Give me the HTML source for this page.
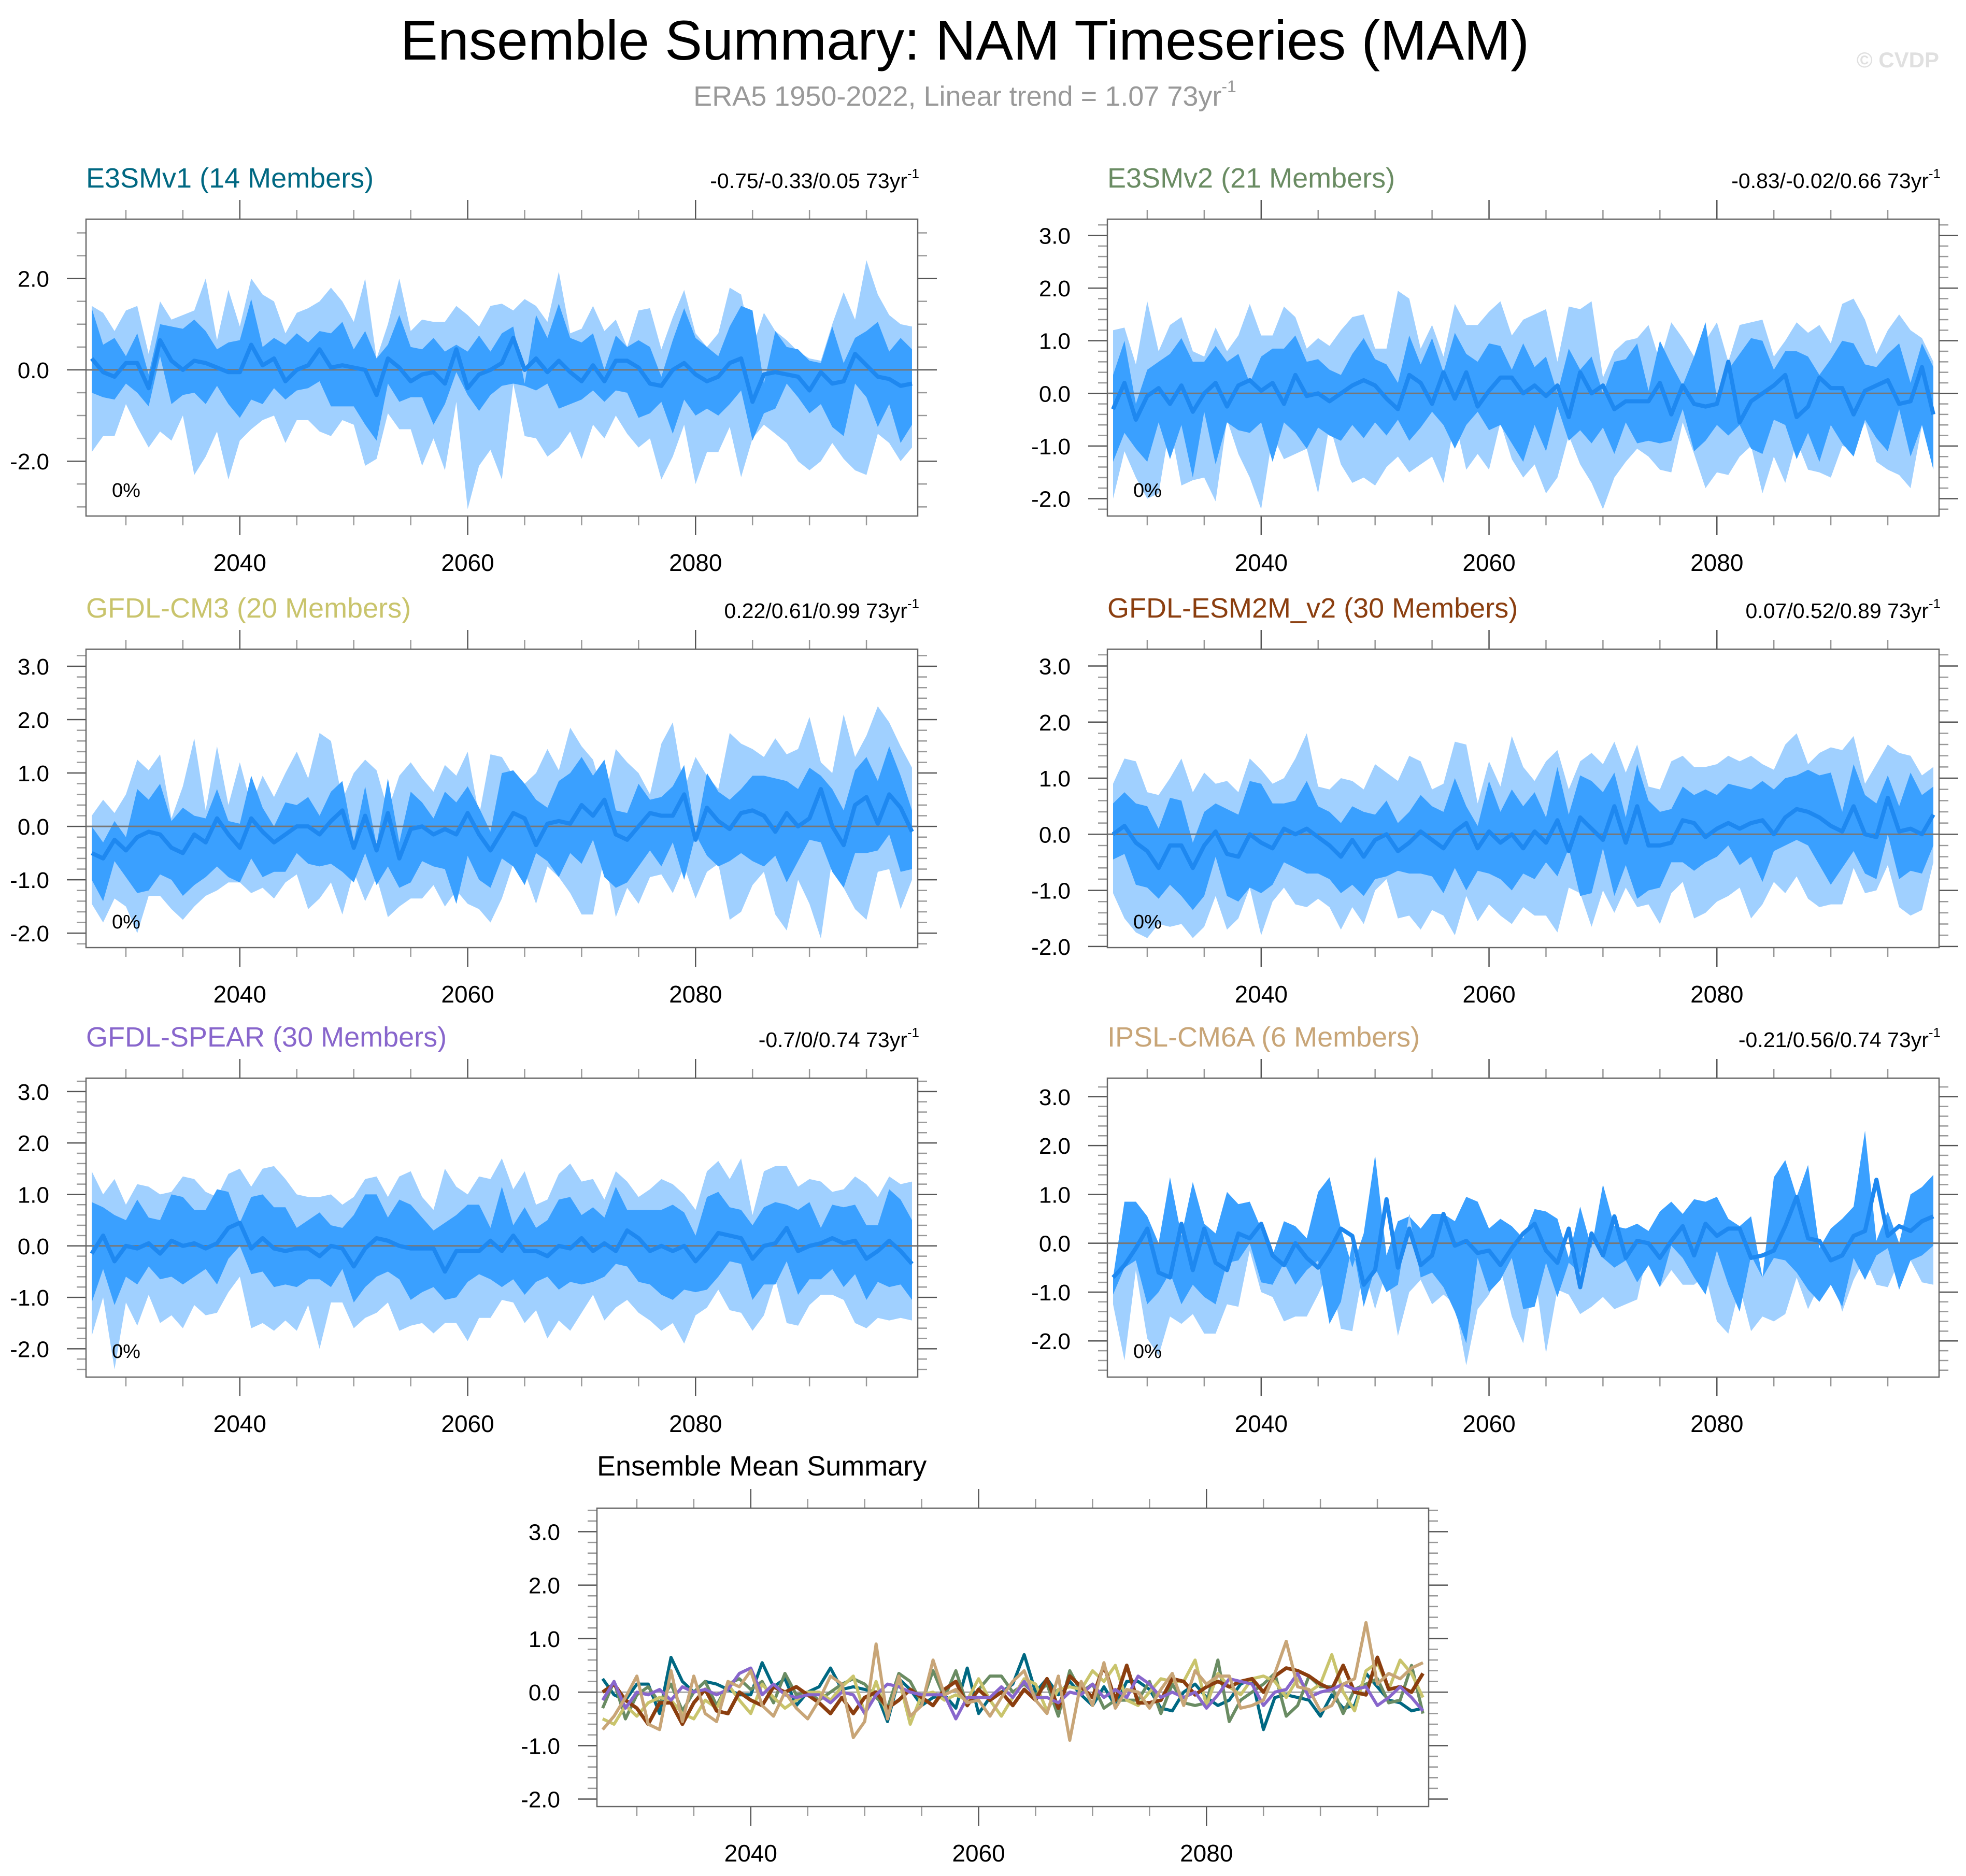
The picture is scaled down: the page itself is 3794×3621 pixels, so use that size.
<!DOCTYPE html>
<html><head><meta charset="utf-8">
<style>
html,body{margin:0;padding:0;background:#fff;}
svg{display:block;font-family:"Liberation Sans",Arial,sans-serif;}
</style></head>
<body>
<svg id="fig" xmlns="http://www.w3.org/2000/svg" width="3794" height="3621" viewBox="0 0 3794 3621">
<rect x="0" y="0" width="3794" height="3621" fill="#fff"/>
<text x="1862" y="115" font-size="108" text-anchor="middle" fill="#000">Ensemble Summary: NAM Timeseries (MAM)</text>
<text x="1862" y="204" font-size="54" text-anchor="middle" fill="#999">ERA5 1950-2022, Linear trend = 1.07 73yr<tspan font-size="32" dy="-26">-1</tspan></text>
<text x="3742" y="130" font-size="42" font-weight="bold" text-anchor="end" fill="#e0e0e0">© CVDP</text>
<g id="panels"></g>
</svg>
<script>
// ---------- DATA ----------
const years = [];
for (let y = 2027; y <= 2099; y++) years.push(y);
const xTicks = [2040, 2060, 2080];

const e3v1Mean = [.25,-.05,-.15,.15,.15,-.4,.65,.2,0,.2, .15,.05,-.05,-.05,.55,.1,.25,-.25,0,.1, .45,.05,.1,.05,0,-.55,.25,.05,-.25,-.1, -.05,-.3,.45,-.4,-.1,0,.15,.7,0,.25, -.05,.2,-.05,-.25,.1,-.25,.2,.2,.05,-.3, -.35,0,.15,-.1,-.25,-.15,.15,.25,-.7,-.1, -.05,-.1,-.15,-.45,-.05,-.3,-.25,.35,.1,-.15, -.2,-.35,-.3];
const e3v1DkHi = [1.35,.55,.7,.3,.8,-.1,1.0,.95,.9,1.1, .85,.45,.6,.65,1.55,.5,.7,.55,.8,.6, .85,.8,1.05,.45,.85,.25,.55,1.2,.5,.45, .7,.4,.55,.4,.75,.4,.8,.95,-.3,1.2, .7,1.45,.7,.6,.8,0,.75,.5,.65,.5, -.15,.65,1.35,.7,.5,.3,.95,1.4,1.3,-.3, .85,.5,.45,.2,.15,.95,.15,.7,.85,1.05, .4,.7,.45];
const e3v1DkLo = [-.5,-.6,-.65,-.3,-.5,-.8,.3,-.75,-.55,-.5, -.75,-.35,-.75,-1.05,-.65,-.75,-.4,-.65,-.45,-.4, -.25,-.8,-.8,-.8,-1.2,-1.55,-.3,-.7,-.6,-.6, -1.2,-.75,-.05,-.55,-.9,-.55,-.35,-.3,-.35,-.45, -.3,-.85,-.75,-.65,-.45,-.7,-.45,-.5,-1.05,-.95, -.7,-1.4,-.65,-1.0,-.85,-1.0,-.75,-.45,-1.55,-.95, -.85,-.3,-.6,-.95,-.75,-1.25,-1.45,-.3,-.6,-1.25, -.75,-1.6,-1.2];
const e3v1LtHi = [1.4,1.25,.85,1.3,1.4,.35,1.5,1.1,1.2,1.3, 2.0,.65,1.75,.95,2.0,1.65,1.5,.8,1.25,1.35, 1.5,1.8,1.5,1.05,2.0,.25,1.0,2.0,.85,1.1, 1.05,1.05,1.4,1.2,.95,1.4,1.45,1.3,1.55,1.4, 1.05,2.15,.8,.9,1.4,.85,1.1,.5,1.3,1.35, .45,1.15,1.75,.8,.5,.8,1.8,1.65,.5,1.25, .85,.65,.4,.25,.2,1.0,1.7,1.1,2.4,1.65, 1.2,1.0,.95];
const e3v1LtLo = [-1.8,-1.45,-1.45,-.75,-1.25,-1.7,-1.35,-1.55,-1.0,-2.3, -1.9,-1.35,-2.4,-1.55,-1.3,-1.1,-1.0,-1.6,-1.1,-1.1, -1.35,-1.45,-1.1,-1.2,-2.1,-1.95,-.95,-1.3,-1.3,-2.1, -1.5,-2.2,-.7,-3.05,-2.1,-1.75,-2.4,-.3,-1.45,-1.5, -1.9,-1.7,-1.35,-1.95,-1.2,-1.5,-1.0,-1.4,-1.7,-1.5, -2.4,-1.9,-1.2,-2.5,-1.8,-1.8,-1.25,-2.35,-1.5,-1.2, -1.4,-1.6,-2.0,-2.2,-2.0,-1.6,-1.95,-2.2,-2.3,-1.4, -1.6,-2.0,-1.7];

const e3v2Mean = [-.3,.2,-.5,-.05,.1,-.2,.15,-.35,0,.2, -.25,.15,.25,.05,.2,-.2,.35,-.05,0,-.15, 0,.15,.25,.15,-.1,-.3,.35,.2,-.2,.4, -.1,.4,-.25,.05,.3,.3,0,.15,-.05,.15, -.45,.4,0,.15,-.3,-.15,-.15,-.15,.2,-.4, .15,-.2,-.25,-.2,.6,-.55,-.15,0,.15,.35, -.45,-.25,.3,.1,.1,-.4,.05,.15,.25,-.2, -.15,.5,-.4];
const e3v2DkHi = [.35,1.0,-.2,.45,.6,.75,1.05,.6,.6,.9, .6,.75,.2,.7,.85,.85,1.1,.6,.65,.45, .35,.75,1.05,.65,.55,.2,1.1,.55,1.05,.4, 1.15,.75,.6,.95,.9,.45,.95,.5,.7,0, .85,.45,.7,0,.6,.65,.95,.05,1.0,.55, .15,.7,1.35,-.1,.45,.75,1.05,1.0,.45,.8, .8,.7,.35,.65,1.0,.95,.55,.5,.75,.95, .2,.95,.5];
const e3v2DkLo = [-1.3,-.75,-1.05,-1.3,-.55,-1.25,-.6,-1.6,-.35,-1.35, -.55,-.7,-.75,-.55,-1.3,-.55,-.75,-1.05,-.65,-.8, -.9,-.6,-.85,-.55,-.8,-.5,-.9,-.65,-.35,-.6, -1.05,-.6,-.35,-.7,-.6,-.95,-1.3,-.6,-1.1,-.25, -.9,-.7,-.95,-.65,-1.15,-.55,-.95,-.9,-.95,-.9, -.3,-1.1,-.9,-.6,-.8,-.6,-1.05,-1.15,-.5,-.6, -1.25,-.75,-1.3,-.6,-.95,-1.2,-.5,-.85,-1.1,-.3, -1.2,-.6,-1.45];
const e3v2LtHi = [1.2,1.25,.55,1.75,.8,1.3,1.45,.8,.7,1.25, .8,1.1,1.7,1.1,1.1,1.65,1.45,.85,1.05,.9, 1.2,1.45,1.5,.85,.85,1.95,1.8,.85,1.3,.7, 1.7,1.3,1.3,1.55,1.75,1.1,1.4,1.5,1.6,.6, 1.65,1.6,1.75,.3,.8,1.0,1.05,1.3,.6,1.35, 1.05,.7,1.0,1.35,.6,1.3,1.35,1.4,.7,1.0, 1.35,1.15,1.3,.95,1.7,1.8,1.4,.75,1.2,1.5, 1.2,1.05,.6];
const e3v2LtLo = [-2.0,-1.1,-1.6,-2.0,-1.9,-.6,-1.75,-1.65,-1.6,-2.05, -.5,-1.15,-1.6,-2.2,-.8,-1.25,-1.15,-1.05,-1.9,-.6, -1.35,-1.7,-1.6,-1.75,-1.4,-1.2,-1.5,-1.35,-1.2,-1.7, -.5,-1.45,-1.15,-1.45,-.55,-1.25,-1.6,-1.35,-1.9,-1.6, -.8,-1.35,-1.7,-2.2,-1.6,-1.3,-1.05,-1.2,-1.45,-1.5, -.55,-1.15,-1.8,-1.5,-1.55,-1.2,-1.0,-1.9,-1.2,-1.7, -.9,-1.45,-1.5,-1.6,-1.0,-1.05,-.55,-1.3,-1.45,-1.55, -1.8,-.6,-1.45];

const cm3Mean = [-.5,-.6,-.25,-.45,-.2,-.1,-.15,-.4,-.5,-.15, -.3,.15,-.15,-.4,.15,-.1,-.3,-.15,0,0, -.15,.1,.3,-.4,.2,-.45,.25,-.6,-.05,0, -.15,-.05,-.15,.25,-.15,-.45,-.1,.25,.15,-.35, .05,.1,.05,.4,.2,.5,-.15,-.25,0,.25, .2,.2,.6,-.25,.35,.1,-.05,.25,.3,.2, -.1,.25,0,.15,.7,0,-.35,.4,.55,.05, .6,.35,-.1];
const cm3DkHi = [0,-.3,.1,-.2,.7,.5,.8,.1,.35,.2, .15,.7,.1,.05,.95,.35,0,.45,.4,.55, .2,.65,.85,-.3,.75,-.35,.9,-.3,.65,.45, .15,.65,.45,.75,.35,-.1,1.0,1.05,.8,.5, .35,.85,1.0,1.3,.95,1.25,.3,.25,.8,.5, .55,.75,1.15,-.15,1.0,.65,.5,.7,.95,.95, .9,.85,.7,1.1,.95,.7,.3,1.05,1.3,.85, 1.5,.95,.3];
const cm3DkLo = [-1.0,-1.4,-.65,-.95,-1.25,-1.2,-.9,-1.0,-1.3,-1.1, -.95,-.75,-.95,-1.05,-.6,-.95,-.85,-.85,-.5,-.7, -.75,-.7,-.85,-1.05,-.5,-1.1,-.75,-1.15,-1.05,-.65, -.75,-.8,-1.45,-.55,-1.0,-1.15,-.6,-.75,-1.1,-.5, -.65,-.95,-.5,-.7,-.25,-.95,-1.15,-1.05,-.75,-.45, -.75,-.3,-1.0,-.15,-.55,-.75,-.65,-.5,-.65,-.75, -.55,-1.05,-.65,-.25,-.3,-.85,-1.15,-.5,-.5,-.45, -.15,-.85,-.8];
const cm3LtHi = [.2,.5,.25,.6,1.25,1.05,1.35,.15,.75,1.65, .3,1.5,.4,1.2,.4,.95,.55,1.0,1.4,.9, 1.75,1.6,.5,1.0,1.25,1.05,.3,.95,1.2,.9, .65,1.15,.95,1.4,.2,1.35,1.3,.95,.8,1.0, 1.45,1.05,1.85,1.5,1.25,.5,1.45,1.2,1.0,.6, 1.55,1.95,.7,1.3,.95,.7,1.75,1.55,1.45,1.3, 1.65,1.35,1.45,2.05,1.2,1.0,2.1,1.3,1.7,2.25, 1.95,1.5,1.1];
const cm3LtLo = [-1.45,-1.8,-1.35,-1.5,-2.0,-1.3,-1.3,-1.55,-1.75,-1.5, -1.3,-1.2,-1.05,-1.05,-1.25,-1.15,-1.35,-1.05,-.9,-1.55, -1.35,-1.05,-1.65,-.85,-1.4,-.95,-1.7,-1.5,-1.35,-1.35, -1.1,-1.5,-1.2,-1.45,-1.55,-1.8,-1.35,-.7,-.85,-1.45, -.75,-.95,-1.25,-1.65,-1.65,-.55,-1.7,-1.15,-1.45,-.95, -.9,-1.25,-.75,-1.35,-.85,-.7,-1.75,-1.6,-1.1,-.85, -1.65,-1.95,-1.0,-1.45,-2.1,-.6,-1.15,-1.55,-1.75,-.85, -.8,-1.55,-1.0];

const esmMean = [0,.15,-.15,-.3,-.6,-.2,-.2,-.6,-.2,.05, -.35,-.4,0,-.15,-.25,.1,0,.1,-.05,-.2, -.4,-.1,-.4,-.1,0,-.3,-.15,.05,-.1,-.25, .05,.2,-.25,.05,-.15,0,-.25,.05,-.15,.25, -.3,.3,.1,-.1,.5,-.15,.5,-.2,-.2,-.15, .25,.2,-.05,.1,.2,.1,.2,.25,0,.3, .45,.4,.3,.15,.05,.5,0,-.05,.65,.05, .1,0,.35];
const esmDkHi = [.55,.75,.55,.5,.1,.65,.6,-.15,.4,.55, .45,.35,.95,.9,.55,.55,.6,.95,.5,.4, .2,.5,.4,.35,.6,.2,.4,.7,.5,.4, 1.0,.5,.15,.95,.4,.8,.5,.75,.3,1.2, .35,1.05,.95,.75,1.1,.3,1.25,.6,.4,.45, .85,.7,.8,.7,.9,.85,.8,.95,.8,1.0, 1.05,1.15,1.05,1.1,.4,1.25,.7,.55,1.05,.5, 1.1,.7,.85];
const esmDkLo = [-.45,-.35,-.9,-.95,-1.15,-.9,-1.1,-1.35,-1.1,-.4, -1.1,-1.2,-.95,-1.05,-.9,-.5,-.6,-.7,-.7,-.8, -1.05,-.9,-1.1,-.8,-.75,-.65,-.7,-.7,-.75,-1.05, -.6,-1.0,-.65,-.7,-.8,-1.0,-.7,-.8,-.5,-.75, -.25,-1.1,-1.05,-.25,-1.1,-.55,-1.15,-1.0,-.95,-.5, -.5,-.65,-.5,-.4,-.2,-.55,-.4,-.85,-.3,-.2, -.1,-.2,-.55,-.9,-.6,-.3,-.7,-.8,0,-.8, -.65,-.7,-.2];
const esmLtHi = [.9,1.35,1.3,.75,.7,1.0,1.35,.75,1.1,.9, .95,.75,1.35,1.15,.9,1.0,1.35,1.8,.85,.8, 1.0,.95,.8,1.25,1.1,.95,1.4,1.3,.8,.9, 1.65,1.6,.55,1.3,.85,1.75,1.2,.95,1.3,1.5, .8,1.3,1.45,1.25,1.65,1.1,1.6,.85,.8,1.3, 1.4,1.2,1.2,1.25,1.4,1.3,1.4,1.25,1.15,1.6, 1.8,1.25,1.45,1.55,1.5,1.75,.9,1.25,1.6,1.45, 1.4,1.05,1.2];
const esmLtLo = [-1.05,-1.5,-1.75,-1.85,-1.6,-1.65,-1.6,-1.85,-1.65,-1.1, -1.7,-1.5,-.95,-1.8,-1.2,-.95,-1.25,-1.3,-1.15,-1.3, -1.7,-1.3,-1.6,-1.0,-.8,-1.5,-1.45,-1.7,-1.35,-1.45, -1.8,-1.1,-1.55,-1.25,-1.45,-1.6,-1.3,-1.45,-1.45,-1.75, -.95,-1.05,-1.65,-1.0,-1.4,-.95,-1.3,-1.25,-1.6,-1.05, -.85,-1.5,-1.4,-1.2,-1.1,-.95,-1.5,-1.25,-.85,-1.05, -.75,-1.15,-1.3,-1.25,-1.25,-.6,-1.05,-1.0,-.55,-1.3, -1.45,-1.35,-.5];

const spearMean = [-.15,.2,-.3,0,-.05,.05,-.15,.1,0,.05, -.05,.05,.35,.45,-.05,.15,-.05,-.1,-.05,-.05, -.2,0,-.05,-.4,-.05,.15,.1,0,-.05,-.05, -.05,-.5,-.1,-.1,-.1,.1,-.1,.2,-.1,-.1, -.2,0,-.05,.15,-.1,.05,-.1,.3,.15,-.1, 0,-.1,0,-.3,-.05,.25,.2,.15,-.25,0, .05,.35,-.1,0,.05,.15,.05,.1,-.25,-.1, .1,-.1,-.35];
const spearDkHi = [.85,.75,.6,.5,.9,.55,.5,1.0,.95,.7, .7,1.1,1.05,.45,.95,1.0,.75,.75,.35,.5, .65,.4,.35,.6,1.0,1.0,.55,.9,.8,.55, .3,.45,.6,.8,.8,.35,1.15,.4,.75,.35, .5,.9,.95,.6,.75,.55,1.15,.7,.7,.7, .7,.8,.65,.2,.95,1.05,.75,.7,.4,.75, .85,.8,.7,.85,.35,.8,.75,.8,.4,.4, 1.1,.9,.5];
const spearDkLo = [-1.1,-.45,-1.15,-.6,-.75,-.4,-.65,-.6,-.75,-.6, -.45,-.75,-.25,0,-.55,-.5,-.8,-.75,-.8,-.65, -.65,-.8,-.45,-1.1,-.8,-.6,-.5,-.65,-1.05,-.9, -.8,-1.05,-1.0,-.7,-.55,-.65,-.8,-.65,-.95,-.7, -.6,-.85,-.7,-.75,-.7,-.6,-.35,-.4,-.7,-.75, -.95,-1.05,-.85,-.9,-.85,-.6,-.3,-.35,-1.05,-.75, -.75,-.3,-.95,-.65,-.65,-.45,-.8,-.55,-1.05,-.7, -.8,-.75,-1.05];
const spearLtHi = [1.45,1.0,1.3,.8,1.2,1.15,1.0,1.05,1.35,1.3, 1.05,.95,1.4,1.5,1.15,1.5,1.55,1.3,1.0,.95, .95,1.0,.8,.95,1.3,1.35,.95,1.35,1.45,.95, .7,1.5,1.15,1.0,1.35,1.3,1.7,1.1,1.45,.8, .9,1.4,1.6,1.25,1.3,.9,1.45,1.25,.95,1.1, 1.3,1.2,1.0,.7,1.45,1.65,1.3,1.7,.6,1.45, 1.55,1.55,1.15,1.3,1.25,1.05,1.1,1.35,1.2,.95, 1.35,1.2,1.25];
const spearLtLo = [-1.75,-1.0,-2.4,-1.1,-1.55,-.95,-1.5,-1.35,-1.6,-1.15, -1.35,-1.3,-.9,-.6,-1.6,-1.5,-1.65,-1.45,-1.65,-1.15, -2.0,-1.1,-1.1,-1.6,-1.4,-1.3,-1.1,-1.65,-1.55,-1.5, -1.7,-1.5,-1.5,-1.85,-1.4,-1.4,-1.05,-1.1,-1.5,-1.25, -1.8,-1.45,-1.65,-1.3,-.95,-1.45,-1.2,-1.05,-1.3,-1.45, -1.65,-1.5,-1.9,-1.35,-1.2,-.85,-1.25,-1.3,-1.65,-1.35, -.65,-1.5,-1.55,-1.15,-.95,-.95,-1.05,-1.5,-1.6,-1.4, -1.45,-1.4,-1.45];

const ipslMean = [-.7,-.45,-.1,.3,-.6,-.7,.4,-.55,.3,-.4, -.55,.2,.1,.4,-.25,-.45,0,-.3,-.5,-.15, .3,.15,-.85,-.55,.9,-.5,.3,-.45,-.25,.6, -.05,.05,-.2,-.15,-.45,-.1,.2,.4,-.15,-.4, .3,-.9,.2,-.25,.55,-.3,.05,0,-.3,.05, .35,-.25,.4,.15,.3,.3,-.3,-.25,-.15,.35, .95,.1,.05,-.35,-.25,.15,.25,1.3,.15,.35, .25,.45,.55];
const ipslDkHi = [-.7,.85,.85,.55,0,1.35,.15,1.25,.4,.2, 1.05,.8,.85,.3,-.25,.45,.35,.1,1.05,1.35, .3,-.5,.2,1.8,-.25,.45,.55,.3,.6,.6, .45,.95,.85,.3,.5,.35,.1,.7,.65,.5, -.3,.75,-.1,1.2,.35,.3,.4,.25,.65,.85, .6,.9,.85,.95,.5,.35,.55,-.7,1.35,1.7, .95,1.6,-.1,.3,.5,.75,2.3,.05,.65,0, 1.0,1.15,1.4];
const ipslDkLo = [-1.05,-.5,-.35,-1.25,-1.0,-.6,-1.25,-.85,-1.1,-1.25, -.4,-.35,0,-.8,-.85,-.4,-.85,-.55,-.35,-1.65, -1.2,0,-1.3,-.5,-1.0,-.85,.6,-.7,-.6,-.9, -1.4,-2.05,-.3,-1.0,-.75,-.3,-1.35,-1.3,-.4,-1.1, -.4,-.6,.1,-.3,-.5,-.35,-.8,-.45,-.9,-.05, -.3,-.7,-1.05,-.15,-.85,-1.4,-.25,-.7,-.3,-.35, -.6,-.95,-1.2,-.85,-1.3,-.3,-.75,-.25,-.1,-.95, -.35,-.25,-.05];
const ipslLtHi = ipslDkHi;
const ipslLtLo = [-1.25,-2.4,-.55,-1.95,-2.3,-1.5,-1.65,-1.45,-1.85,-1.85, -1.25,-1.3,-.15,-1.0,-1.1,-1.6,-1.5,-1.5,-1.05,-.55, -1.75,-1.8,-.5,-1.35,-.55,-1.9,-1.0,-.75,-1.25,-1.05, -1.25,-2.5,-1.35,-1.05,-.5,-1.5,-2.05,-.6,-2.25,-.95, -1.05,-1.45,-1.3,-1.1,-1.35,-1.25,-1.15,-.1,-.9,-.55, -.85,-.85,-.65,-1.6,-1.85,-.9,-1.8,-1.5,-1.6,-1.45, -.7,-1.35,-.85,-.55,-1.4,-.75,-.3,-.85,-.9,-.35, -.35,-.8,-.85];

const modelNames = ["E3SMv1 (14 Members)","E3SMv2 (21 Members)","GFDL-CM3 (20 Members)","GFDL-ESM2M_v2 (30 Members)","GFDL-SPEAR (30 Members)","IPSL-CM6A (6 Members)"];
const modelColors = ["#006882","#6a8c63","#c9c46c","#8b3e0f","#8866cc","#c8a577"];
const trendLabels = ["-0.75/-0.33/0.05","-0.83/-0.02/0.66","0.22/0.61/0.99","0.07/0.52/0.89","-0.7/0/0.74","-0.21/0.56/0.74"];
const ytickLabels1 = ["-2.0","0.0","2.0"];
const ytickLabels = ["-2.0","-1.0","0.0","1.0","2.0","3.0"];

// ---------- LAYOUT ----------
const NS = "http://www.w3.org/2000/svg";
const root = document.getElementById('panels');
function el(tag, attrs, parent) {
  const e = document.createElementNS(NS, tag);
  for (const k in attrs) e.setAttribute(k, attrs[k]);
  (parent || root).appendChild(e);
  return e;
}
const panels = [
  {x:166,y:423,w:1605,h:573,ymin:-3.2,ymax:3.3,maj:2,minr:0.5,labels:ytickLabels1,data:[e3v1Mean,e3v1DkHi,e3v1DkLo,e3v1LtHi,e3v1LtLo]},
  {x:2137,y:423,w:1605,h:573,ymin:-2.33,ymax:3.31,maj:1,minr:0.2,labels:ytickLabels,data:[e3v2Mean,e3v2DkHi,e3v2DkLo,e3v2LtHi,e3v2LtLo]},
  {x:166,y:1253,w:1605,h:576,ymin:-2.27,ymax:3.32,maj:1,minr:0.2,labels:ytickLabels,data:[cm3Mean,cm3DkHi,cm3DkLo,cm3LtHi,cm3LtLo]},
  {x:2137,y:1253,w:1605,h:576,ymin:-2.02,ymax:3.30,maj:1,minr:0.2,labels:ytickLabels,data:[esmMean,esmDkHi,esmDkLo,esmLtHi,esmLtLo]},
  {x:166,y:2081,w:1605,h:577,ymin:-2.55,ymax:3.26,maj:1,minr:0.2,labels:ytickLabels,data:[spearMean,spearDkHi,spearDkLo,spearLtHi,spearLtLo]},
  {x:2137,y:2081,w:1605,h:577,ymin:-2.74,ymax:3.38,maj:1,minr:0.2,labels:ytickLabels,data:[ipslMean,ipslDkHi,ipslDkLo,ipslLtHi,ipslLtLo]}
];
const X0 = 2026.5, X1 = 2099.5;

function axes(p, g) {
  const sx = v => p.x + (v - X0) / (X1 - X0) * p.w;
  const sy = v => p.y + (p.ymax - v) / (p.ymax - p.ymin) * p.h;
  return {sx, sy};
}

function drawFrame(p, g, ax) {
  for (let yr = 2030; yr <= 2095; yr += 5) {
    const X = ax.sx(yr);
    const major = yr % 20 === 0;
    const L = major ? 37 : 18;
    const c = major ? "#555" : "#999";
    el('line',{x1:X,y1:p.y,x2:X,y2:p.y-L,stroke:c,'stroke-width':2.5},g);
    el('line',{x1:X,y1:p.y+p.h,x2:X,y2:p.y+p.h+L,stroke:c,'stroke-width':2.5},g);
  }
  xTicks.forEach(yr => {
    const t = el('text',{x:ax.sx(yr),y:p.y+p.h+106,'font-size':46,'text-anchor':'middle',fill:'#000'},g);
    t.textContent = yr;
    
    
  });
  const start = Math.ceil(p.ymin / p.minr - 1e-6);
  const end = Math.floor(p.ymax / p.minr + 1e-6);
  for (let k = start; k <= end; k++) {
    const v = k * p.minr;
    const Y = ax.sy(v);
    const major = Math.abs(v / p.maj - Math.round(v / p.maj)) < 1e-6;
    const L = major ? 37 : 18;
    const c = major ? "#555" : "#999";
    el('line',{x1:p.x,y1:Y,x2:p.x-L,y2:Y,stroke:c,'stroke-width':2.5},g);
    el('line',{x1:p.x+p.w,y1:Y,x2:p.x+p.w+L,y2:Y,stroke:c,'stroke-width':2.5},g);
  }
  p.labels.forEach(lbl => {
    const v = parseFloat(lbl);
    if (v < p.ymin || v > p.ymax) return;
    const t = el('text',{x:p.x-71,y:ax.sy(v)+16,'font-size':44,'text-anchor':'end',fill:'#000'},g);
    t.textContent = lbl;
    
    
  });
  const fr = el('rect',{x:p.x,y:p.y,width:p.w,height:p.h,fill:'none',stroke:'#666','stroke-width':2.5},g);
  
  
}

function bandPath(hi, lo, ax) {
  let d = '';
  years.forEach((yr,i) => { d += (i ? 'L' : 'M') + ax.sx(yr).toFixed(1) + ',' + ax.sy(hi[i]).toFixed(1); });
  for (let i = years.length - 1; i >= 0; i--) d += 'L' + ax.sx(years[i]).toFixed(1) + ',' + ax.sy(lo[i]).toFixed(1);
  return d + 'Z';
}
function linePath(vals, ax) {
  let d = '';
  years.forEach((yr,i) => { d += (i ? 'L' : 'M') + ax.sx(yr).toFixed(1) + ',' + ax.sy(vals[i]).toFixed(1); });
  return d;
}

panels.forEach((p, idx) => {
  const g = el('g', {});
  
  
  const ax = axes(p, g);
  const [mean, dkHi, dkLo, ltHi, ltLo] = p.data;
  const lt = el('path',{d:bandPath(ltHi, ltLo, ax),fill:'#a0d0ff',stroke:'none'},g);
  
  
  const dk = el('path',{d:bandPath(dkHi, dkLo, ax),fill:'#3aa0ff',stroke:'none'},g);
  
  
  const z = el('line',{x1:p.x,y1:ax.sy(0),x2:p.x+p.w,y2:ax.sy(0),stroke:'#777','stroke-width':3},g);
  
  
  const ml = el('path',{d:linePath(mean, ax),fill:'none',stroke:'#1e88f0','stroke-width':8,'stroke-linejoin':'round'},g);
  
  
  drawFrame(p, g, ax);
  const tt = el('text',{x:p.x,y:p.y-61,'font-size':54,fill:modelColors[idx]},g);
  tt.textContent = modelNames[idx];
  
  
  const tr = el('text',{x:p.x+p.w+3,y:p.y-60,'font-size':41,'text-anchor':'end',fill:'#000'},g);
  
  
  tr.appendChild(document.createTextNode(trendLabels[idx] + ' 73yr'));
  const sup = el('tspan',{'font-size':26,dy:-19},tr);
  sup.textContent = '-1';
  const pc = el('text',{x:p.x+50,y:p.y+p.h-37,'font-size':38,fill:'#000'},g);
  pc.textContent = '0%';
  
  
});

// Ensemble mean summary
const sp = {x:1152,y:2911,w:1605,h:576,ymin:-2.14,ymax:3.44,maj:1,minr:0.2,labels:ytickLabels};
const sg = el('g', {});


const sax = axes(sp, sg);
const zl = el('line',{x1:sp.x,y1:sax.sy(0),x2:sp.x+sp.w,y2:sax.sy(0),stroke:'#999','stroke-width':2.5},sg);


const summaryMeans = [e3v1Mean, e3v2Mean, cm3Mean, esmMean, spearMean, ipslMean];
summaryMeans.forEach((m, i) => {
  const pl = el('path',{d:linePath(m, sax),fill:'none',stroke:modelColors[i],'stroke-width':i===3?7:6,'stroke-linejoin':'round'},sg);
  
  
});
drawFrame(sp, sg, sax);
const st = el('text',{x:sp.x,y:2848,'font-size':54,fill:'#000'},sg);
st.textContent = 'Ensemble Mean Summary';


</script>
</body></html>
